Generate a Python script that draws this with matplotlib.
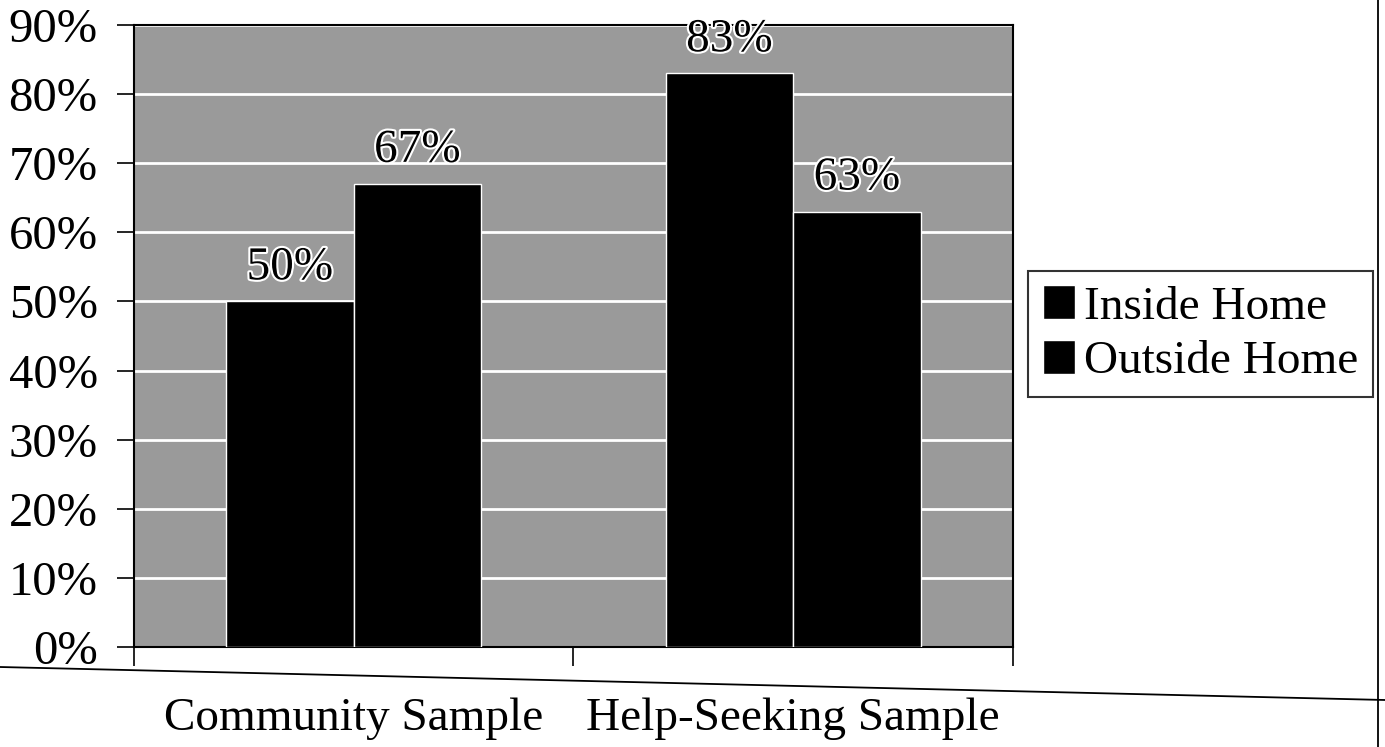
import numpy as np
import matplotlib
matplotlib.use('Agg')
import matplotlib.pyplot as plt
import matplotlib.patheffects as pe
from matplotlib.lines import Line2D

plt.rcParams['font.family'] = ['Liberation Serif', 'DejaVu Serif']

# Data
categories = ['Community Sample', 'Help-Seeking Sample']
series_names = ['Inside Home', 'Outside Home']
inside_home = [50, 83]
outside_home = [67, 63]
y_ticks = [0, 10, 20, 30, 40, 50, 60, 70, 80, 90]

fig = plt.figure(figsize=(13.85, 7.47), dpi=100)
ax = fig.add_axes([0.0966, 0.1339, 0.6348, 0.8326])
ax.set_facecolor('#9a9a9a')

x = np.arange(len(categories))
width = 0.29
bars_in = ax.bar(x - width / 2, inside_home, width, color='black', edgecolor='white', linewidth=1, label=series_names[0], zorder=3)
bars_out = ax.bar(x + width / 2, outside_home, width, color='black', edgecolor='white', linewidth=1, label=series_names[1], zorder=3)

# Value labels, black text with white outline
for bars, vals in [(bars_in, inside_home), (bars_out, outside_home)]:
    for b, v in zip(bars, vals):
        ax.text(b.get_x() + b.get_width() / 2, v + 3.2, f'{v}%', ha='center', va='baseline',
                fontsize=34, color='black', zorder=5,
                path_effects=[pe.withStroke(linewidth=3, foreground='white')])

ax.set_xlim(-0.5, 1.5)
ax.set_ylim(0, 90)
ax.set_yticks(y_ticks)
ax.set_yticklabels([f'{t}%' for t in y_ticks], fontsize=35)
ax.yaxis.grid(True, color='white', linewidth=2, zorder=1)
ax.set_axisbelow(True)

ax.set_xticks([-0.5, 0.5, 1.5])
ax.set_xticklabels([])
ax.tick_params(axis='x', direction='out', length=14, width=1.2, color='black')
ax.tick_params(axis='y', direction='out', length=12, width=1.2, color='black', pad=14)
for s in ax.spines.values():
    s.set_color('black')
    s.set_linewidth(1.5)

# Category labels
for i, name in enumerate(categories):
    ax.text(x[i], -0.133, name, transform=ax.get_xaxis_transform(), ha='center', va='baseline', fontsize=34)

leg = ax.legend(loc='upper left', bbox_to_anchor=(1.0175, 0.6045), fontsize=34, frameon=True,
                fancybox=False, edgecolor='black', handlelength=0.68, handleheight=0.72,
                handletextpad=0.2, borderpad=0.3, labelspacing=0.24, borderaxespad=0)
leg.get_frame().set_linewidth(1.5)

# outer chart frame lines (partly visible in the scan)
fig.add_artist(Line2D([0.0, 1.0], [1 - 667 / 747, 1 - 700 / 747], transform=fig.transFigure, color='black', linewidth=1.3))
fig.add_artist(Line2D([1378 / 1385, 1378 / 1385], [0.0, 1.0], transform=fig.transFigure, color='black', linewidth=1.3))

fig.savefig('out.png', dpi=100)
